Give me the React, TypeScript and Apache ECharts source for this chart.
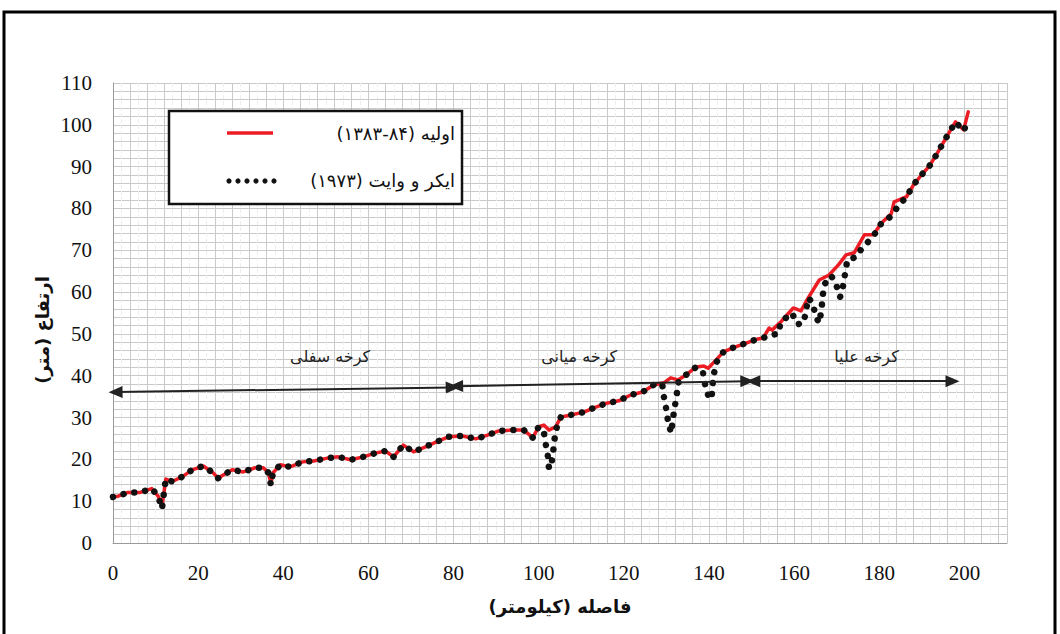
import React, { useEffect, useRef } from "react";
import * as echarts from "echarts";

// Longitudinal bed profile – initial survey (1383-84)
const initialProfile: [number, number][] = [
  [0, 11.0], [1.2, 11.2], [3.5, 12.1], [6.4, 12.1], [9.1, 13.0], [10.6, 11.2], [11.5, 9.0], [11.9, 11.5],
  [12.4, 15.3], [13.9, 14.7], [16.2, 15.8], [18.6, 17.5], [21.2, 18.4], [23.6, 16.7], [24.7, 15.5], [25.8, 16.2],
  [28.0, 17.5], [30.6, 17.0], [33.4, 18.0], [35.3, 18.0], [36.5, 16.8], [37.1, 14.2], [37.6, 16.8], [39.3, 18.7],
  [41.6, 18.2], [44.5, 19.4], [47.1, 19.6], [50.4, 20.3], [52.9, 20.6], [55.8, 19.9], [58.8, 20.6], [61.6, 21.5],
  [64.0, 22.0], [65.9, 20.6], [68.2, 23.4], [70.6, 21.8], [73.4, 23.0], [76.5, 24.4], [78.8, 25.4], [82.1, 25.6],
  [85.2, 24.9], [88.0, 25.8], [90.6, 26.8], [93.6, 27.0], [96.5, 27.0], [98.6, 25.2], [100.0, 27.8], [101.2, 28.2],
  [102.4, 27.0], [104.0, 27.8], [105.2, 30.1], [107.5, 30.6], [110.6, 31.3], [113.4, 32.5], [116.2, 33.5], [118.8, 34.0],
  [121.6, 35.4], [124.4, 36.1], [127.0, 37.8], [129.4, 38.3], [131.0, 39.5], [132.7, 39.0], [134.6, 40.2], [137.0, 42.1],
  [138.8, 42.3], [139.8, 41.8], [141.4, 43.5], [143.4, 45.7], [145.9, 46.8], [148.7, 47.8], [151.5, 48.8], [152.7, 49.0],
  [154.1, 51.4], [154.8, 50.9], [156.9, 52.9], [159.8, 56.2], [161.6, 55.5], [163.3, 58.6], [165.9, 62.9], [168.2, 64.1],
  [170.4, 66.5], [172.2, 68.9], [174.1, 69.4], [176.5, 73.7], [178.6, 73.7], [180.5, 76.5], [182.8, 78.7], [183.5, 81.6],
  [186.4, 82.8], [188.0, 85.6], [189.9, 88.0], [191.8, 90.2], [193.4, 92.8], [195.0, 95.7], [196.5, 98.3], [197.9, 100.7],
  [199.8, 98.8], [200.9, 103.1],
];

// Acker & White (1973) computed profile
const ackerWhiteProfile: [number, number][] = [
  [0, 11.0], [1.2, 11.2], [3.5, 12.1], [6.4, 12.1], [9.1, 13.0], [10.6, 11.2], [11.5, 8.2], [11.9, 11.5],
  [12.4, 15.3], [13.9, 14.7], [16.2, 15.8], [18.6, 17.5], [21.2, 18.4], [23.6, 16.7], [24.7, 15.5], [25.8, 16.2],
  [28.0, 17.5], [30.6, 17.0], [33.4, 18.0], [35.3, 18.0], [36.5, 16.8], [37.1, 13.9], [37.6, 16.8], [39.3, 18.7],
  [41.6, 18.2], [44.5, 19.4], [47.1, 19.6], [50.4, 20.3], [52.9, 20.6], [55.8, 19.9], [58.8, 20.6], [61.6, 21.5],
  [64.0, 22.0], [65.9, 20.6], [68.2, 23.4], [70.6, 21.8], [73.4, 23.0], [76.5, 24.4], [78.8, 25.4], [82.1, 25.6],
  [85.2, 24.9], [88.0, 25.8], [90.6, 26.8], [93.6, 27.0], [96.5, 27.0], [98.6, 25.2], [100.0, 27.8], [101.2, 26.6],
  [101.6, 23.9], [102.2, 20.5], [102.4, 17.9], [102.8, 17.9], [103.3, 20.8], [103.6, 23.9], [104.0, 27.0], [105.2, 30.1],
  [107.5, 30.6], [110.6, 31.3], [113.4, 32.5], [116.2, 33.5], [118.8, 34.0], [121.6, 35.4], [124.4, 36.1], [127.0, 37.8],
  [129.0, 38.0], [129.4, 35.0], [130.0, 31.8], [130.4, 28.9], [131.1, 26.3], [131.5, 29.4], [131.9, 32.3], [132.4, 35.2],
  [132.7, 38.3], [134.6, 40.2], [137.0, 42.1], [138.6, 40.7], [139.1, 37.8], [139.9, 35.0], [140.6, 34.4], [140.8, 37.6],
  [141.2, 40.7], [141.8, 43.3], [143.4, 45.7], [145.9, 46.8], [148.7, 47.8], [151.5, 48.8], [152.7, 49.0], [154.1, 49.7],
  [156.2, 50.0], [156.9, 52.9], [159.5, 55.0], [160.7, 52.3], [162.2, 52.6], [162.8, 55.5], [163.3, 58.6], [164.4, 57.4],
  [165.0, 54.3], [165.9, 52.6], [166.4, 55.7], [166.7, 58.8], [167.0, 61.7], [168.7, 63.9], [169.9, 61.7], [170.8, 58.8],
  [171.5, 61.5], [172.0, 64.6], [172.5, 67.7], [174.6, 68.4], [175.9, 70.5], [177.2, 71.8], [178.8, 73.7], [180.5, 76.5],
  [182.6, 78.0], [184.5, 80.6], [186.4, 82.8], [188.0, 85.6], [189.9, 88.0], [191.8, 90.2], [193.4, 92.8], [195.0, 95.7],
  [196.5, 98.3], [197.9, 100.7], [199.8, 98.5], [201.0, 101.5],
];

// River reaches (arrows, in data units)
const reachNames = ["کرخه سفلی", "کرخه میانی", "کرخه علیا"];
const reachStart: [number, number][] = [[0.6, 36.1], [80.6, 37.5], [150.4, 38.7]];
const reachEnd: [number, number][] = [[79.8, 37.2], [149.0, 38.7], [197.2, 38.7]];
const reachLabelAt: [number, number][] = [[51, 44.6], [109.5, 44.6], [177, 44.6]];

const seriesNames = ["اولیه (\u2066۱۳۸۳-۸۴\u2069)\u200F", "ایکر و وایت (\u2066۱۹۷۳\u2069)\u200F"];
const xTitle = "فاصله (کیلومتر)\u200F";
const yTitle = "ارتفاع (متر)\u200F";
const legendDots = [0, 1, 2, 3, 4, 5];

export default function App() {
  const ref = useRef<HTMLDivElement>(null);
  useEffect(() => {
    const chart = echarts.init(ref.current!, null, { renderer: "svg" });
    const persian = "DejaVu Sans";
    const serif = "Liberation Serif";
    chart.setOption({
      animation: false,
      backgroundColor: "#ffffff",
      grid: { left: 113, right: 53, top: 83, bottom: 91, containLabel: false },
      xAxis: {
        type: "value",
        min: 0,
        max: 210,
        interval: 4,
        name: xTitle,
        nameLocation: "middle",
        nameGap: 54,
        nameTextStyle: { fontFamily: persian, fontWeight: "bold", fontSize: 18, color: "#111" },
        axisLine: { show: true, lineStyle: { color: "#9a9a9a", width: 1 } },
        axisTick: { show: false },
        axisLabel: {
          showMaxLabel: false,
          margin: 19,
          fontFamily: serif,
          fontSize: 21,
          color: "#111",
          formatter: (v: number) => (v % 20 === 0 ? String(v) : ""),
        },
        splitLine: { show: true, lineStyle: { color: "#c9c9c9", width: 1 } },
        minorTick: { show: false, splitNumber: 2 },
        minorSplitLine: { show: true, lineStyle: { color: "#ededed", width: 1, type: "dashed" } },
      },
      yAxis: {
        type: "value",
        min: 0,
        max: 110,
        interval: 2,
        axisLine: { show: true, lineStyle: { color: "#9a9a9a", width: 1 } },
        axisTick: { show: false },
        axisLabel: {
          margin: 21,
          fontFamily: serif,
          fontSize: 21,
          color: "#111",
          formatter: (v: number) => (v % 10 === 0 ? String(v) : ""),
        },
        splitLine: { show: true, lineStyle: { color: "#c9c9c9", width: 1 } },
      },
      series: [
        {
          name: seriesNames[0],
          type: "line",
          data: initialProfile,
          symbol: "none",
          showSymbol: false,
          lineStyle: { color: "#ec1c24", width: 3.5, join: "round", cap: "round" },
          z: 2,
          markLine: {
            silent: true,
            symbol: ["triangle", "triangle"],
            symbolSize: [12, 14],
            lineStyle: { color: "#222", width: 2, type: "solid" },
            label: { show: false },
            emphasis: { disabled: true },
            data: reachStart.map((s, i) => [{ coord: s }, { coord: reachEnd[i] }]),
          },
          markPoint: {
            silent: true,
            symbol: "circle",
            symbolSize: 1,
            itemStyle: { color: "rgba(0,0,0,0)" },
            label: {
              show: true,
              position: "inside",
              formatter: "{b}",
              fontFamily: persian,
              fontSize: 16,
              color: "#222",
            },
            data: reachNames.map((n, i) => ({ name: n, coord: reachLabelAt[i] })),
          },
        },
        {
          name: seriesNames[1],
          type: "line",
          data: ackerWhiteProfile,
          symbol: "none",
          showSymbol: false,
          lineStyle: { color: "#111", width: 6.5, type: [0.01, 11], cap: "round", join: "round" },
          z: 3,
        },
      ],
      graphic: [
        {
          type: "rect",
          silent: true,
          z: 200,
          shape: { x: 4, y: 12, width: 1051, height: 700 },
          style: { fill: "none", stroke: "#000", lineWidth: 3 },
        },
        {
          type: "text",
          silent: true,
          z: 100,
          x: 42,
          y: 330,
          rotation: Math.PI / 2,
          style: {
            text: yTitle,
            align: "center",
            verticalAlign: "middle",
            fontFamily: persian,
            fontWeight: "bold",
            fontSize: 18,
            fill: "#111",
          },
        },
        {
          type: "rect",
          silent: true,
          z: 100,
          shape: { x: 169, y: 111, width: 293, height: 93 },
          style: { fill: "#fff", stroke: "#111", lineWidth: 2.5, lineDash: null },
        },
        {
          type: "line",
          silent: true,
          z: 101,
          shape: { x1: 227, y1: 133, x2: 273, y2: 133 },
          style: { stroke: "#ec1c24", lineWidth: 3.5, lineDash: null },
        },
        {
          type: "text",
          silent: true,
          z: 101,
          x: 455,
          y: 133,
          style: {
            text: seriesNames[0],
            align: "right",
            verticalAlign: "middle",
            fontFamily: persian,
            fontSize: 18,
            fill: "#111",
          },
        },
        ...legendDots.map((i) => ({
          type: "circle",
          silent: true,
          z: 101,
          shape: { cx: 229 + i * 9, cy: 181, r: 2.6 },
          style: { fill: "#111" },
        })),
        {
          type: "text",
          silent: true,
          z: 101,
          x: 455,
          y: 180,
          style: {
            text: seriesNames[1],
            align: "right",
            verticalAlign: "middle",
            fontFamily: persian,
            fontSize: 18,
            fill: "#111",
          },
        },
      ],
    });
    return () => chart.dispose();
  }, []);
  return (
    <div
      ref={ref}
      style={{ position: "fixed", left: 0, top: 0, width: 1060, height: 634, background: "#fff" }}
    />
  );
}
